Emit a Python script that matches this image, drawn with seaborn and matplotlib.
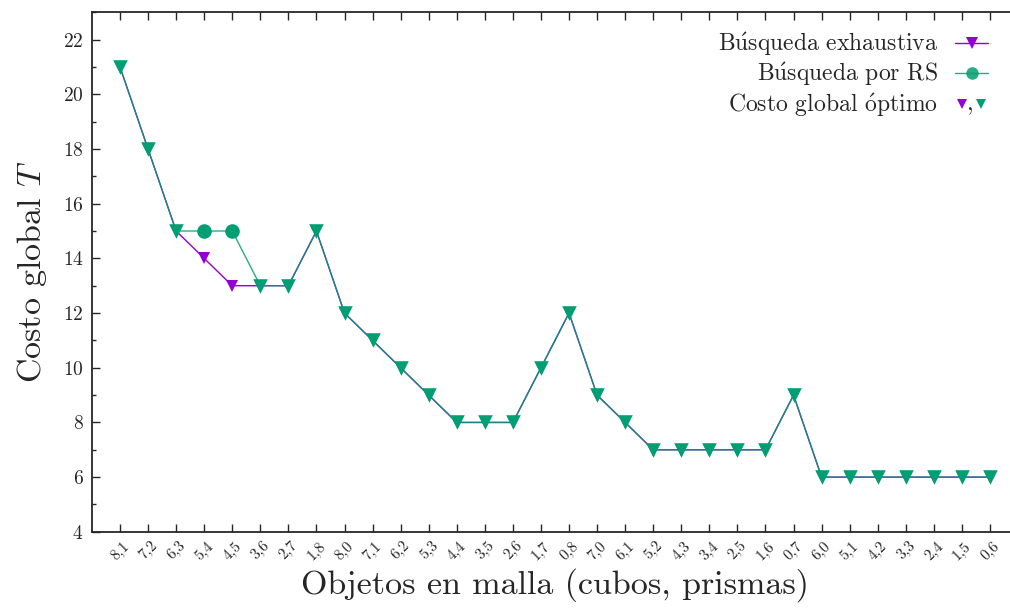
import numpy as np
import pandas as pd
import matplotlib
matplotlib.use('Agg')
import matplotlib.pyplot as plt
import seaborn as sns
from matplotlib.lines import Line2D
from matplotlib.text import Text
from matplotlib.legend_handler import HandlerBase
from matplotlib.ticker import MultipleLocator

# datos
objetos = ['8,1', '7,2', '6,3', '5,4', '4,5', '3,6', '2,7', '1,8',
           '8,0', '7,1', '6,2', '5,3', '4,4', '3,5', '2,6', '1,7', '0,8',
           '7,0', '6,1', '5,2', '4,3', '3,4', '2,5', '1,6', '0,7',
           '6,0', '5,1', '4,2', '3,3', '2,4', '1,5', '0,6']
exhaustiva = [21, 18, 15, 14, 13, 13, 13, 15,
              12, 11, 10, 9, 8, 8, 8, 10, 12,
              9, 8, 7, 7, 7, 7, 7, 9,
              6, 6, 6, 6, 6, 6, 6]
rs = [21, 18, 15, 15, 15, 13, 13, 15,
      12, 11, 10, 9, 8, 8, 8, 10, 12,
      9, 8, 7, 7, 7, 7, 7, 9,
      6, 6, 6, 6, 6, 6, 6]
etiquetas = [r'B$\acute{\rm u}$squeda exhaustiva',
             r'B$\acute{\rm u}$squeda por RS',
             r'Costo global $\acute{\rm o}$ptimo']

MORADO = '#9400d3'
VERDE = '#009e73'

sns.set_style('ticks')
plt.rcParams['font.family'] = ['cmr10', 'DejaVu Serif']
plt.rcParams['mathtext.fontset'] = 'cm'
plt.rcParams['axes.formatter.use_mathtext'] = True
plt.rcParams['axes.unicode_minus'] = False

df = pd.DataFrame({'pos': np.arange(len(objetos)), 'obj': objetos,
                   'exh': exhaustiva, 'rs': rs})
df['opt'] = df['rs'] == df['exh']

fig = plt.figure(figsize=(10.1, 6.12), dpi=100)
ax = fig.add_axes([0.091, 0.131, 0.917, 0.849])

sns.lineplot(data=df, x='pos', y='exh', ax=ax, color=MORADO, lw=1.0,
             marker='v', markersize=9, markeredgewidth=0, zorder=2)
sns.lineplot(data=df, x='pos', y='rs', ax=ax, color=VERDE, lw=1.0, alpha=0.85,
             zorder=3)
opt = df[df['opt']]
no_opt = df[~df['opt']]
sns.scatterplot(data=opt, x='pos', y='rs', ax=ax, color=VERDE, marker='v',
                s=110, linewidth=0, zorder=4)
sns.scatterplot(data=no_opt, x='pos', y='rs', ax=ax, color=VERDE, marker='o',
                s=110, linewidth=0, zorder=4)

ax.set_xlim(-1, len(objetos))
ax.set_ylim(4, 23)
ax.set_xticks(df['pos'])
ax.set_xticklabels(objetos, rotation=45, fontsize=11)
ax.yaxis.set_major_locator(MultipleLocator(2))
ax.yaxis.set_minor_locator(MultipleLocator(1))
ax.tick_params(axis='both', which='both', direction='in', top=True, right=True)
ax.tick_params(axis='both', which='major', length=6, width=1)
ax.tick_params(axis='y', which='minor', length=3, width=1)
ax.tick_params(axis='y', labelsize=14, pad=6)
ax.tick_params(axis='x', pad=5)
for s in ax.spines.values():
    s.set_linewidth(1.3)

ax.set_xlabel('Objetos en malla (cubos, prismas)', fontsize=24.5)
ax.set_ylabel('Costo global $T$', fontsize=24.5, labelpad=10)


class ComaHandler(HandlerBase):
    def create_artists(self, legend, orig_handle, xdescent, ydescent,
                       width, height, fontsize, trans):
        y = height / 2 - ydescent
        a = Line2D([width * 0.2 - xdescent], [y], marker='v', ls='',
                   color=MORADO, markersize=7, markeredgewidth=0, transform=trans)
        c = Text(width * 0.47 - xdescent, y - 0.3 * fontsize, ',', fontsize=fontsize,
                 ha='center', va='baseline', transform=trans)
        b = Line2D([width * 0.78 - xdescent], [y], marker='v', ls='',
                   color=VERDE, markersize=7, markeredgewidth=0, transform=trans)
        return [a, c, b]


h1 = Line2D([], [], color=MORADO, lw=1.0, marker='v', markersize=9, markeredgewidth=0)
h2 = Line2D([], [], color=VERDE, lw=1.0, alpha=0.85, marker='o', markersize=9,
            markeredgewidth=0)
h3 = object()
leg = ax.legend([h1, h2, h3], etiquetas,
                handler_map={h3: ComaHandler()}, markerfirst=False, frameon=False,
                fontsize=17, loc='upper right', bbox_to_anchor=(0.9995, 0.985),
                bbox_transform=fig.transFigure, handlelength=1.4,
                handletextpad=0.72, labelspacing=0.12)

fig.savefig('out.png', dpi=100)
